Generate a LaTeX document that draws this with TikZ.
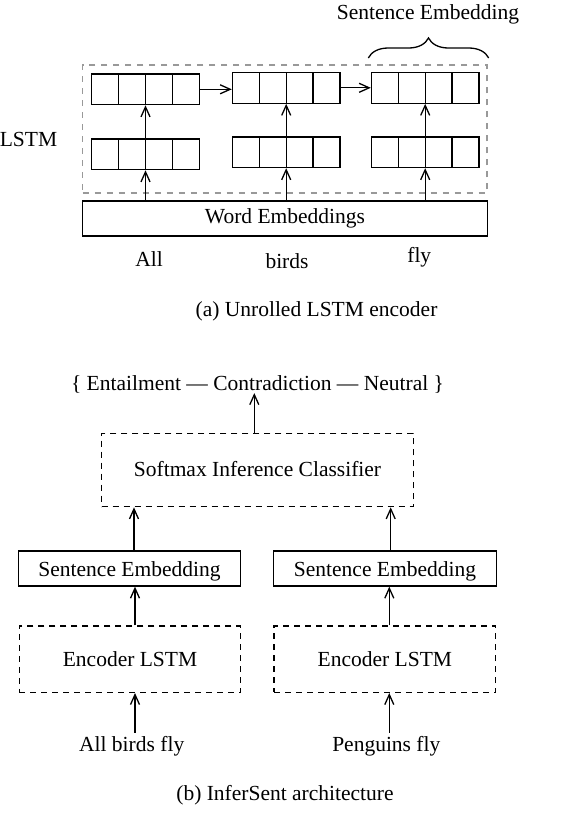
\documentclass[tikz,border=0pt]{standalone}
\usepackage{fontspec}
\setmainfont{Liberation Serif}
\usetikzlibrary{arrows.meta,decorations.pathreplacing,calc}
\tikzset{
  every node/.style={font=\fontsize{21.5}{26}\selectfont},
  cellblock/.style={draw, line width=1.3pt, minimum width=107.6pt, minimum height=30.7pt, inner sep=0pt,
    path picture={
      \foreach \f in {0.25,0.5,0.75}{
        \draw[line width=1.3pt] ($(path picture bounding box.south west)!\f!(path picture bounding box.south east)$) --
              ($(path picture bounding box.north west)!\f!(path picture bounding box.north east)$);
      }}},
  solidbox/.style={draw, line width=1.3pt, inner sep=0pt},
  dashbox/.style={draw, line width=1.3pt, dash pattern=on 6pt off 5pt, inner sep=0pt},
  graybox/.style={draw=black!40, line width=1.3pt, dash pattern=on 6pt off 6pt, inner sep=0pt},
  arr/.style={line width=1.3pt, -{Straight Barb[length=10pt,width=9pt,line width=1.3pt]}},
  lbl/.style={anchor=base, inner sep=0pt},
  word/.style={anchor=base, inner sep=0pt, outer sep=4pt},
}
\begin{document}
\begin{tikzpicture}[x=1pt,y=-1pt]
\useasboundingbox (0,0) rectangle (580,836);
% ---- (a) Unrolled LSTM encoder
\node[graybox, minimum width=404.3pt, minimum height=128pt] (lstmbox) at (284.85,129) {};
\node[solidbox, minimum width=404.6pt, minimum height=35pt] (we) at (285,218.5) {Word Embeddings};
\node[cellblock] (a2) at (145.5,89.3) {};
\node[cellblock] (b2) at (286.2,87.8) {};
\node[cellblock] (c2) at (425.2,87.8) {};
\node[cellblock] (a1) at (145.5,154.3) {};
\node[cellblock] (b1) at (286.2,152.2) {};
\node[cellblock] (c1) at (425.2,152.2) {};
\foreach \n in {a,b,c}{
  \draw[arr] (\n1.south |- we.north) -- (\n1.south);
  \draw[arr] (\n1.north) -- (\n2.south);
}
\draw[arr] (a2.east) -- (a2.east -| b2.west);
\draw[arr] (b2.east) -- (b2.east -| c2.west);
\coordinate (brL) at (368.3,58);
\coordinate (brR) at (488.7,58);
\draw[line width=1.3pt, decorate, decoration={brace, amplitude=20pt}] (brL) -- (brR);
\node[lbl] (sentemb) at (428,19) {Sentence Embedding};
\node[lbl] (lstm) at (28.5,146.7) {LSTM};
\node[lbl] (wall) at (149,266.7) {All};
\node[lbl] (wbirds) at (287,268.3) {birds};
\node[lbl] (wfly) at (419.3,262) {fly};
\node[lbl] (capa) at (316.5,316) {(a) Unrolled LSTM encoder};
% ---- (b) InferSent architecture
\node[lbl] (labels) at (257.5,390) {\{ Entailment --- Contradiction --- Neutral \}};
\node[dashbox, minimum width=311.6pt, minimum height=73.4pt] (soft) at (257.5,470) {};
\node[lbl] (softtxt) at (257.5,476.7) {Softmax Inference Classifier};
\node[solidbox, minimum width=222.4pt, minimum height=35pt] (seL) at (129.5,568.5) {};
\node[lbl] at (129.5,576) {Sentence Embedding};
\node[solidbox, minimum width=223.4pt, minimum height=35pt] (seR) at (385,568.5) {};
\node[lbl] at (385,576) {Sentence Embedding};
\node[dashbox, minimum width=221.4pt, minimum height=66.3pt] (encL) at (130,659.2) {};
\node[lbl] at (130,666) {Encoder LSTM};
\node[dashbox, minimum width=221.7pt, minimum height=66.3pt] (encR) at (384.9,659.2) {};
\node[lbl] at (384.9,666) {Encoder LSTM};
\node[word] (inL) at (131.7,751.7) {All birds fly};
\node[word] (inR) at (386.3,751.7) {Penguins fly};
\node[lbl] (capb) at (285,800) {(b) InferSent architecture};
\draw[arr] (soft.north -| 254.3,0) -- (labels.south -| 254.3,0);
\draw[arr] ([xshift=4.5pt]seL.north) -- ([xshift=4.5pt]seL.north |- soft.south);
\draw[arr] ([xshift=5.7pt]seR.north) -- ([xshift=5.7pt]seR.north |- soft.south);
\draw[arr] (encL.north -| 135,0) -- (seL.south -| 135,0);
\draw[arr] (encR.north -| 389.3,0) -- (seR.south -| 389.3,0);
\draw[arr] (inL.north -| 135,0) -- (encL.south -| 135,0);
\draw[arr] (inR.north -| 389.3,0) -- (encR.south -| 389.3,0);
\end{tikzpicture}
\end{document}
